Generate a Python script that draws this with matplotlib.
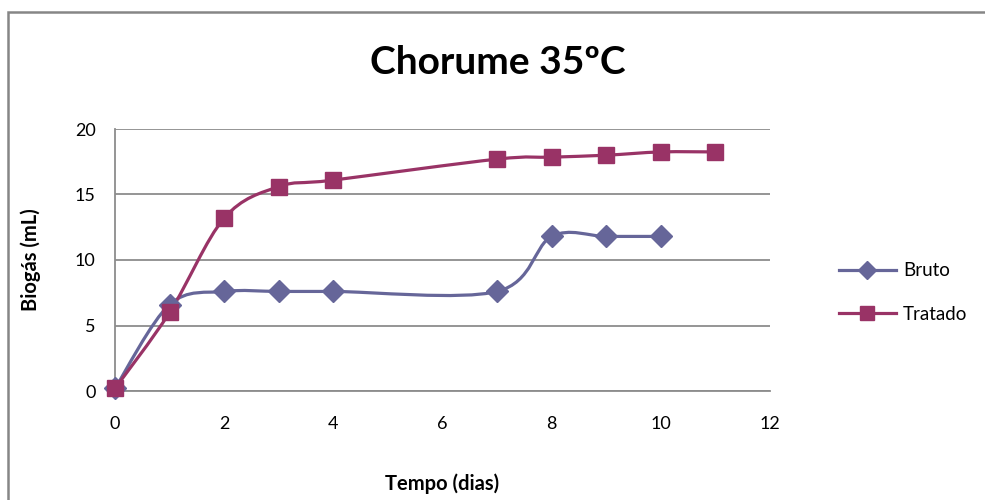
import numpy as np
import matplotlib
matplotlib.use("Agg")
from matplotlib import pyplot as plt
from matplotlib.path import Path
from matplotlib.patches import PathPatch, Rectangle
from matplotlib.lines import Line2D

plt.rcParams['font.family'] = ['Lato', 'DejaVu Sans']

# biogas volume (mL) per day
dias_bruto = [0, 1, 2, 3, 4, 7, 8, 9, 10]
bruto = [0.2, 6.6, 7.6, 7.6, 7.6, 7.6, 11.8, 11.8, 11.8]
dias_tratado = [0, 1, 2, 3, 4, 7, 8, 9, 10, 11]
tratado = [0.2, 6.0, 13.2, 15.6, 16.1, 17.7, 17.85, 18.0, 18.25, 18.25]

cor_bruto = '#666699'
cor_tratado = '#993366'


def smooth_path(x, y):
    # cubic bezier through every point, Catmull-Rom style tangents
    pts = np.column_stack([x, y]).astype(float)
    verts = [pts[0]]
    codes = [Path.MOVETO]
    n = len(pts)
    for i in range(n - 1):
        p0 = pts[max(i - 1, 0)]
        p1 = pts[i]
        p2 = pts[i + 1]
        p3 = pts[min(i + 2, n - 1)]
        c1 = p1 + (p2 - p0) / 6.0
        c2 = p2 - (p3 - p1) / 6.0
        verts += [c1, c2, p2]
        codes += [Path.CURVE4] * 3
    return Path(verts, codes)


fig = plt.figure(figsize=(9.85, 5.0), dpi=100)
ax = fig.add_axes([0.1168, 0.218, 0.665, 0.524])

for x, y, cor, mk, ms, nome in [
        (dias_bruto, bruto, cor_bruto, 'D', 11, 'Bruto'),
        (dias_tratado, tratado, cor_tratado, 's', 12, 'Tratado')]:
    ax.add_patch(PathPatch(smooth_path(x, y), facecolor='none',
                           edgecolor=cor, lw=2.3, zorder=3))
    ax.plot(x, y, linestyle='none', marker=mk, ms=ms, color=cor,
            zorder=4, clip_on=False)

ax.set_xlim(0, 12)
ax.set_ylim(0, 20)
ax.set_xticks(range(0, 13, 2))
ax.set_yticks(range(0, 21, 5))
ax.yaxis.grid(True, color='#8c8c8c', lw=1.3)
ax.set_axisbelow(True)
for s in ['top', 'right']:
    ax.spines[s].set_visible(False)
ax.spines['left'].set_color('#8c8c8c')
ax.spines['bottom'].set_color('#8c8c8c')
ax.spines['left'].set_linewidth(1.3)
ax.spines['bottom'].set_linewidth(1.3)
ax.tick_params(length=0, labelsize=13)
ax.tick_params(axis='x', pad=18)
ax.tick_params(axis='y', pad=14)

ax.set_xlabel('Tempo (dias)', fontsize=14.5, fontweight='bold', labelpad=30)
ax.set_ylabel('Biogás (mL)', fontsize=14.5, fontweight='bold', labelpad=24)
fig.text(0.505, 0.876, 'Chorume 35ºC', ha='center', va='center',
         fontsize=28, fontweight='bold')

handles = [Line2D([], [], color=cor_bruto, lw=2.3, marker='D', ms=9),
           Line2D([], [], color=cor_tratado, lw=2.3, marker='s', ms=10)]
fig.legend(handles, ['Bruto', 'Tratado'], loc='center left',
           bbox_to_anchor=(0.835, 0.415), frameon=False, fontsize=13.5,
           handlelength=3.0, labelspacing=1.4, handletextpad=0.4)

# outer chart frame
fig.patches.append(Rectangle((0.008, -0.2), 1.2, 1.176, transform=fig.transFigure,
                             facecolor='none', edgecolor='#868686', lw=1.8))

fig.savefig('out.png', dpi=100)
